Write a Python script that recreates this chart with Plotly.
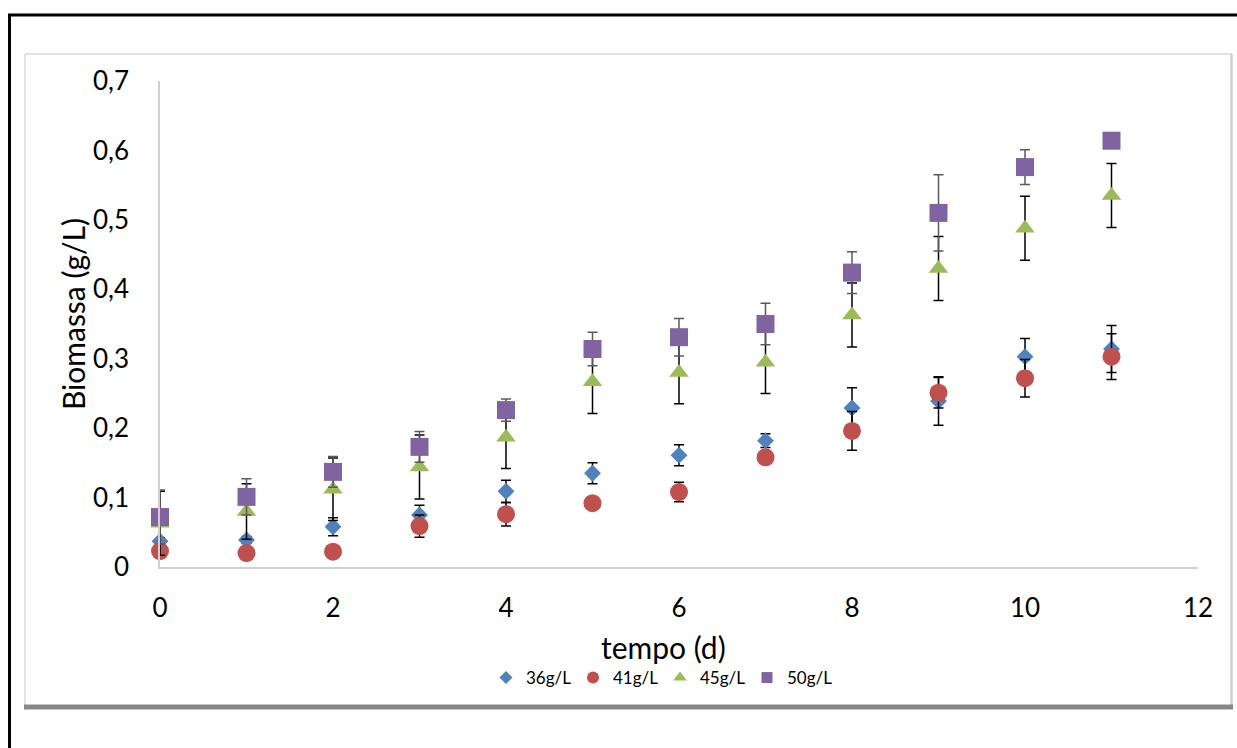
import plotly.graph_objects as go

# ---- data ----
tempo = [0, 1, 2, 3, 4, 5, 6, 7, 8, 9, 10, 11]

s36 = [0.037, 0.039, 0.058, 0.075, 0.109, 0.135, 0.161, 0.182, 0.229, 0.239, 0.303, 0.314]
e36 = [0.005, 0.005, 0.013, 0.014, 0.016, 0.015, 0.015, 0.010, 0.029, 0.035, 0.026, 0.034]

s41 = [0.023, 0.020, 0.022, 0.059, 0.076, 0.092, 0.108, 0.158, 0.196, 0.251, 0.272, 0.303]
e41 = [0.004, 0.004, 0.004, 0.016, 0.017, 0.005, 0.014, 0.005, 0.028, 0.022, 0.027, 0.033]

s45 = [0.063, 0.080, 0.112, 0.144, 0.187, 0.267, 0.280, 0.295, 0.363, 0.430, 0.488, 0.535]
e45 = [0.046, 0.040, 0.045, 0.046, 0.045, 0.046, 0.045, 0.045, 0.046, 0.046, 0.046, 0.046]

s50 = [0.072, 0.101, 0.137, 0.173, 0.226, 0.314, 0.331, 0.350, 0.424, 0.510, 0.576, 0.614]
e50 = [0.039, 0.026, 0.022, 0.022, 0.016, 0.024, 0.027, 0.030, 0.030, 0.055, 0.025, 0.004]

labels = ["36g/L", "41g/L", "45g/L", "50g/L"]
x_ticks = [0, 2, 4, 6, 8, 10, 12]
y_ticks = [0, 0.1, 0.2, 0.3, 0.4, 0.5, 0.6, 0.7]

FONT = "Lato"
W, H = 1237, 748
L, R, T, B = 160, 1198, 81, 567  # plot area in pixels

def px(xp):
    return (xp - L) / (R - L)

def py(yp):
    return (B - yp) / (B - T)

series = [
    (s36, e36, labels[0], "#4F81BD", "diamond", 13, "black", 10),
    (s41, e41, labels[1], "#C0504D", "circle", 18, "black", 12),
    (s45, e45, labels[2], "#9BBB59", "triangle-up", 17, "black", 12),
    (s50, e50, labels[3], "#8064A2", "square", 18, "#5a5a5a", 11),
]

fig = go.Figure()
for ys, es, name, col, sym, size, ecol, lsize in series:
    fig.add_trace(go.Scatter(
        x=tempo, y=ys, name=name, mode="markers", showlegend=False,
        marker=dict(color=col, symbol=sym, size=size, line=dict(width=0)),
        error_y=dict(type="data", array=es, visible=True, color=ecol,
                     thickness=1.5, width=5),
        cliponaxis=False,
    ))
# legend-only entries with smaller symbols (as in the reference legend)
for ys, es, name, col, sym, size, ecol, lsize in series:
    fig.add_trace(go.Scatter(
        x=[None], y=[None], name=name, mode="markers", showlegend=True,
        marker=dict(color=col, symbol=sym, size=lsize, line=dict(width=0)),
    ))

shapes = [
    # outer black frame (left and top)
    dict(type="line", xref="paper", yref="paper", x0=px(9.5), x1=px(9.5),
         y0=py(14), y1=py(750), line=dict(color="black", width=3)),
    dict(type="line", xref="paper", yref="paper", x0=px(8), x1=px(1240),
         y0=py(15), y1=py(15), line=dict(color="black", width=3)),
    # inner chart box
    dict(type="line", xref="paper", yref="paper", x0=px(25), x1=px(25),
         y0=py(54), y1=py(706), line=dict(color="#D9D9D9", width=1.5)),
    dict(type="line", xref="paper", yref="paper", x0=px(25), x1=px(1232),
         y0=py(54), y1=py(54), line=dict(color="#D9D9D9", width=1.5)),
    dict(type="line", xref="paper", yref="paper", x0=px(1231.5), x1=px(1231.5),
         y0=py(54), y1=py(708), line=dict(color="#CFCFCF", width=2.5)),
    dict(type="line", xref="paper", yref="paper", x0=px(24), x1=px(1233),
         y0=py(707), y1=py(707), line=dict(color="#878787", width=5)),
]

annotations = [
    dict(text="tempo (d)", xref="paper", yref="paper", x=px(663), y=py(647),
         xanchor="center", yanchor="middle", showarrow=False,
         font=dict(family=FONT, size=30, color="black")),
    dict(text="Biomassa (g/L)", xref="paper", yref="paper", x=px(73), y=py(314),
         xanchor="center", yanchor="middle", showarrow=False, textangle=-90,
         font=dict(family=FONT, size=30, color="black")),
]

fig.update_layout(
    width=W, height=H,
    margin=dict(l=L, r=W - R, t=T, b=H - B, autoexpand=False),
    paper_bgcolor="white", plot_bgcolor="white",
    separators=", ",
    font=dict(family=FONT, color="black"),
    shapes=shapes, annotations=annotations,
    showlegend=True,
    legend=dict(orientation="h", x=px(660), y=py(678), xanchor="center",
                yanchor="middle", font=dict(family=FONT, size=17, color="black"),
                itemwidth=30, entrywidth=42, tracegroupgap=0,
                bgcolor="rgba(0,0,0,0)"),
    xaxis=dict(range=[0, 12], tickvals=x_ticks, showgrid=False, zeroline=False,
               showline=True, linecolor="#D0D0D0", linewidth=1.5, ticks="",
               ticklabelstandoff=17, tickfont=dict(family=FONT, size=26, color="black")),
    yaxis=dict(range=[0, 0.7], tickvals=y_ticks, showgrid=False, zeroline=False,
               showline=True, linecolor="#D0D0D0", linewidth=1.5, ticks="",
               ticklabelstandoff=24, tickfont=dict(family=FONT, size=26, color="black")),
)

fig.write_html("out.html")
